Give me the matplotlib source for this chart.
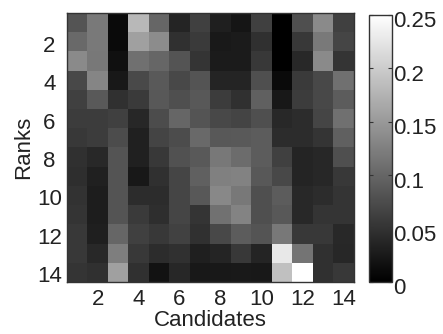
import numpy as np
import matplotlib.pyplot as plt
from matplotlib.transforms import ScaledTranslation

plt.rcParams['font.family'] = ['Liberation Sans', 'DejaVu Sans']

candidates = list(range(1, 15))
ranks = list(range(1, 15))
x_ticks = [2, 4, 6, 8, 10, 12, 14]
y_ticks = [2, 4, 6, 8, 10, 12, 14]
cbar_ticks = [0, 0.05, 0.1, 0.15, 0.2, 0.25]
cbar_labels = ['0', '0.05', '0.1', '0.15', '0.2', '0.25']

# rows = ranks 1..14, columns = candidates 1..14
row1 = [0.083, 0.120, 0.010, 0.180, 0.100, 0.036, 0.063, 0.031, 0.021, 0.063, 0.000, 0.078, 0.135, 0.063]
row2 = [0.104, 0.120, 0.010, 0.157, 0.137, 0.047, 0.057, 0.025, 0.027, 0.047, 0.000, 0.055, 0.120, 0.068]
row3 = [0.135, 0.118, 0.016, 0.110, 0.100, 0.083, 0.052, 0.027, 0.027, 0.055, 0.000, 0.041, 0.135, 0.052]
row4 = [0.071, 0.130, 0.024, 0.073, 0.088, 0.071, 0.083, 0.036, 0.036, 0.078, 0.010, 0.057, 0.071, 0.110]
row5 = [0.063, 0.088, 0.047, 0.057, 0.086, 0.078, 0.086, 0.059, 0.047, 0.094, 0.024, 0.059, 0.071, 0.090]
row6 = [0.059, 0.059, 0.063, 0.039, 0.075, 0.100, 0.083, 0.071, 0.067, 0.078, 0.041, 0.043, 0.068, 0.110]
row7 = [0.055, 0.059, 0.075, 0.033, 0.067, 0.075, 0.104, 0.086, 0.088, 0.090, 0.043, 0.043, 0.052, 0.094]
row8 = [0.047, 0.041, 0.083, 0.033, 0.055, 0.080, 0.088, 0.118, 0.106, 0.090, 0.063, 0.036, 0.039, 0.078]
row9 = [0.045, 0.033, 0.083, 0.024, 0.047, 0.068, 0.094, 0.125, 0.127, 0.086, 0.071, 0.036, 0.039, 0.055]
row10 = [0.049, 0.029, 0.083, 0.043, 0.043, 0.068, 0.086, 0.133, 0.118, 0.078, 0.090, 0.041, 0.043, 0.051]
row11 = [0.052, 0.029, 0.083, 0.057, 0.045, 0.068, 0.052, 0.112, 0.129, 0.078, 0.086, 0.041, 0.051, 0.051]
row12 = [0.055, 0.031, 0.100, 0.063, 0.055, 0.065, 0.047, 0.071, 0.090, 0.083, 0.118, 0.055, 0.055, 0.041]
row13 = [0.055, 0.041, 0.124, 0.055, 0.043, 0.047, 0.031, 0.036, 0.055, 0.036, 0.227, 0.114, 0.047, 0.039]
row14 = [0.052, 0.047, 0.157, 0.047, 0.018, 0.039, 0.024, 0.024, 0.025, 0.024, 0.188, 0.250, 0.047, 0.055]

data = np.array([row1, row2, row3, row4, row5, row6, row7,
                 row8, row9, row10, row11, row12, row13, row14])

fs = 16
fig = plt.figure(figsize=(4.43, 3.34), dpi=100)
ax = fig.add_axes([0.151, 0.156, 0.647, 0.805])
cax = fig.add_axes([0.833, 0.156, 0.052, 0.80])

im = ax.imshow(data, cmap='gray', vmin=0, vmax=0.25, aspect='auto',
               interpolation='nearest',
               extent=[candidates[0] - 0.5, candidates[-1] + 0.5,
                       ranks[-1] + 0.5, ranks[0] - 0.5])
ax.set_xticks(x_ticks)
ax.set_yticks(y_ticks)
ax.tick_params(axis='x', length=0, labelsize=fs, pad=5)
ax.tick_params(axis='y', length=0, labelsize=fs, pad=12.5)
ax.set_xlabel('Candidates', fontsize=fs, labelpad=0, color='#222222')
ax.set_ylabel('Ranks', fontsize=fs, labelpad=2, color='#222222')
for s in ax.spines.values():
    s.set_linewidth(1.0)
    s.set_color('#333333')

# MATLAB-style labels: centred on a column and a little below their ticks
shift = ScaledTranslation(0, -2 / 100, fig.dpi_scale_trans)
for lab in ax.get_yticklabels():
    lab.set_transform(lab.get_transform() + shift)
    lab.set_horizontalalignment('center')
    lab.set_color('#222222')
for lab in ax.get_xticklabels():
    lab.set_color('#222222')

cb = fig.colorbar(im, cax=cax, ticks=cbar_ticks)
cb.ax.set_yticklabels(cbar_labels)
cb.ax.tick_params(direction='in', length=3, labelsize=fs, pad=1, left=True, right=True,
                  colors='#333333', labelcolor='#222222')
shift2 = ScaledTranslation(0, -4.5 / 100, fig.dpi_scale_trans)
for lab in cb.ax.get_yticklabels():
    lab.set_transform(lab.get_transform() + shift2)
cb.outline.set_linewidth(1.0)
cb.outline.set_edgecolor('#333333')

fig.savefig('out.png', dpi=100)
